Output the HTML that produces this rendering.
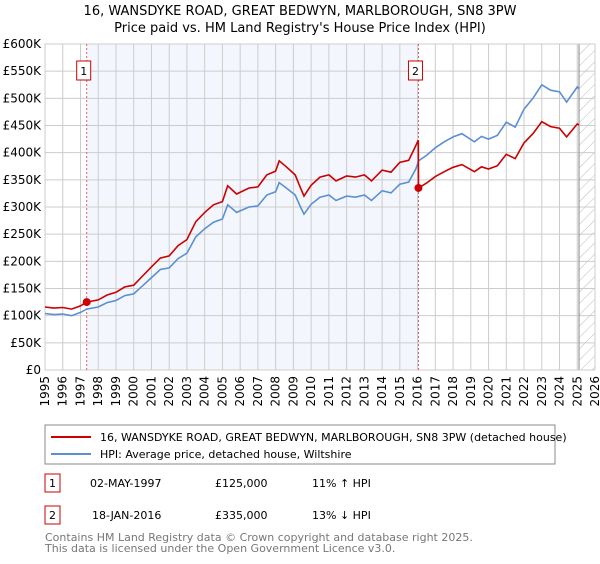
<!DOCTYPE html>
<html><head><meta charset="utf-8"><style>
body{margin:0;background:#fff;font-family:"DejaVu Sans","Liberation Sans",sans-serif;}
svg text{font-family:"DejaVu Sans","Liberation Sans",sans-serif;}
</style></head><body>
<svg id="chart" width="600" height="560" xmlns="http://www.w3.org/2000/svg">
<defs><pattern id="hatch" width="8" height="8" patternUnits="userSpaceOnUse" patternTransform="rotate(45)"><line x1="0" y1="0" x2="0" y2="8" stroke="#bbb" stroke-width="1"/></pattern></defs>
<text x="300" y="15" text-anchor="middle" font-size="13">16, WANSDYKE ROAD, GREAT BEDWYN, MARLBOROUGH, SN8 3PW</text>
<text x="300" y="32" text-anchor="middle" font-size="13">Price paid vs. HM Land Registry's House Price Index (HPI)</text>
<g id="plot"></g>
<rect x="45" y="425" width="510" height="39" fill="#fff" stroke="#888"/>
<line x1="51" y1="437" x2="91" y2="437" stroke="#cc0000" stroke-width="2"/>
<text x="100" y="441" font-size="11">16, WANSDYKE ROAD, GREAT BEDWYN, MARLBOROUGH, SN8 3PW (detached house)</text>
<line x1="51" y1="454" x2="91" y2="454" stroke="#5b8fd4" stroke-width="2"/>
<text x="100" y="458" font-size="11">HPI: Average price, detached house, Wiltshire</text>
<g font-size="11">
<rect x="45" y="474" width="15" height="18" fill="#fff" stroke="#cc0000"/>
<text x="52.5" y="487" text-anchor="middle">1</text>
<text x="90" y="487">02-MAY-1997</text><text x="215" y="487">£125,000</text><text x="312" y="487">11% ↑ HPI</text>
</g>
<g font-size="11">
<rect x="45" y="506" width="15" height="18" fill="#fff" stroke="#cc0000"/>
<text x="52.5" y="519" text-anchor="middle">2</text>
<text x="92" y="519">18-JAN-2016</text><text x="215" y="519">£335,000</text><text x="312" y="519">13% ↓ HPI</text>
</g>
<text x="45" y="541" font-size="11" fill="#777">Contains HM Land Registry data © Crown copyright and database right 2025.</text>
<text x="45" y="552" font-size="11" fill="#777">This data is licensed under the Open Government Licence v3.0.</text>
</svg>
<script>
const dates=[1995.0,1995.5,1996.0,1996.5,1997.0,1997.35,1998.0,1998.5,1999.0,1999.5,2000.0,2000.5,2001.0,2001.5,2002.0,2002.5,2003.0,2003.5,2004.0,2004.5,2005.0,2005.3,2005.8,2006.5,2007.0,2007.5,2008.0,2008.2,2008.6,2009.1,2009.4,2009.6,2010.0,2010.5,2011.0,2011.4,2012.0,2012.5,2013.0,2013.4,2014.0,2014.5,2015.0,2015.5,2015.9,2016.04,2016.05,2016.5,2017.0,2017.5,2018.0,2018.5,2019.2,2019.6,2020.0,2020.5,2021.0,2021.5,2022.0,2022.5,2023.0,2023.5,2024.0,2024.4,2025.0,2025.1];
const hpi=[104,102,103,100,106,112,116,124,128,137,140,155,170,185,188,205,215,245,260,272,278,304,290,300,302,322,328,345,335,322,300,287,305,318,322,312,320,318,322,312,330,326,342,346,370,383,385,395,409,420,429,435,420,430,425,432,456,447,480,500,525,515,512,493,521,518];
const price=[116,114,115,112,118,125,129,138,143,153,156,173,190,206,210,229,240,273,290,304,310,339,324,335,337,359,366,385,374,359,335,320,340,355,359,348,357,355,359,348,368,364,382,386,413,423,335,344,356,365,373,378,365,374,370,376,397,389,418,435,457,448,445,429,453,451];
const yTicks=[0,50,100,150,200,250,300,350,400,450,500,550,600];
const xTicks=[1995,1996,1997,1998,1999,2000,2001,2002,2003,2004,2005,2006,2007,2008,2009,2010,2011,2012,2013,2014,2015,2016,2017,2018,2019,2020,2021,2022,2023,2024,2025,2026];
const sales=[{d:1997.35,v:125,n:'1'},{d:2016.05,v:335,n:'2'}];
const X0=45,X1=595,Y0=370,Y1=44;
const xs=d=>X0+(d-1995)/(2026-1995)*(X1-X0);
const ys=v=>Y0-v/600*(Y0-Y1);
const NS='http://www.w3.org/2000/svg';
const g=document.getElementById('plot');
function mk(t,a,p){const e=document.createElementNS(NS,t);for(const k in a)e.setAttribute(k,a[k]);(p||g).appendChild(e);return e;}
const shade=mk('rect',{x:xs(1997.35),y:Y1,width:xs(2016.05)-xs(1997.35),height:Y0-Y1,fill:'#eef3fc',opacity:0.7});


const hatch=mk('rect',{x:xs(2025.1),y:Y1,width:X1-xs(2025.1),height:Y0-Y1,fill:'url(#hatch)'});


yTicks.forEach(v=>{
 mk('line',{x1:X0,x2:X1,y1:ys(v),y2:ys(v),stroke:'#ccc'});
 const t=mk('text',{x:X0-4,y:ys(v)+4,'text-anchor':'end','font-size':12});
 
 
 t.textContent=v===0?'£0':'£'+v+'K';
});
xTicks.forEach(d=>{
 mk('line',{x1:xs(d),x2:xs(d),y1:Y1,y2:Y0,stroke:'#ccc'});
 const t=mk('text',{x:0,y:0,'text-anchor':'end','font-size':12,transform:`translate(${xs(d)+4},${Y0+6}) rotate(-90)`});
 
 
 t.textContent=d;
});
mk('line',{x1:xs(2025.1),x2:xs(2025.1),y1:Y1,y2:Y0,stroke:'#888'});
mk('rect',{x:X0,y:Y1,width:X1-X0,height:Y0-Y1,fill:'none',stroke:'#ccc'});
sales.forEach(s=>{mk('line',{x1:xs(s.d),x2:xs(s.d),y1:Y1,y2:Y0,stroke:'#e06060','stroke-dasharray':'2,2'});});
const path=arr=>arr.map((v,i)=>(i?'L':'M')+xs(dates[i]).toFixed(1)+','+ys(v).toFixed(1)).join('');
const hl=mk('path',{d:path(hpi),fill:'none',stroke:'#5b8fd4','stroke-width':1.6});


const pl=mk('path',{d:path(price),fill:'none',stroke:'#cc0000','stroke-width':1.6});


sales.forEach(s=>{
 const c=mk('circle',{cx:xs(s.d),cy:ys(s.v),r:4,fill:'#cc0000'});
 
 
 const b=mk('rect',{x:xs(s.d)-10,y:61,width:14,height:19,fill:'#fff',stroke:'#cc0000'});
 
 
 const t=mk('text',{x:xs(s.d)-3,y:75,'text-anchor':'middle','font-size':11});
 t.textContent=s.n;
});
</script>
</body></html>
